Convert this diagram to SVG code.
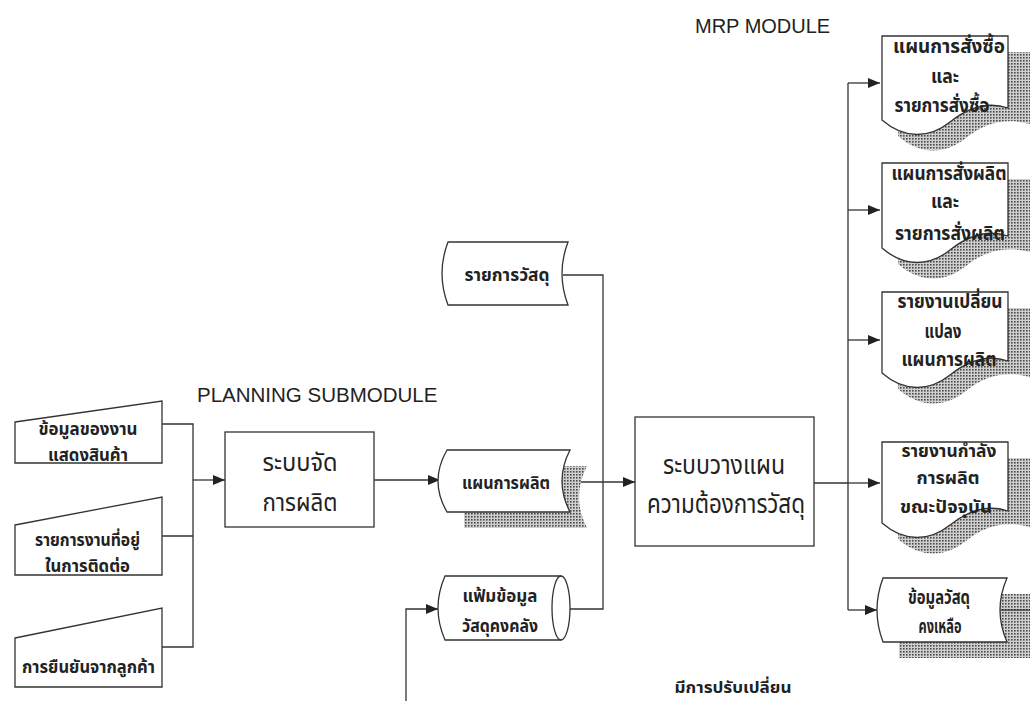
<svg xmlns="http://www.w3.org/2000/svg" width="1030" height="701" viewBox="0 0 1030 701">
<defs>
<pattern id="dots" width="3" height="3" patternUnits="userSpaceOnUse"><rect width="3" height="3" fill="#cfcfcf"/><rect width="1.6" height="1.6" fill="#4a4a4a"/></pattern>
<marker id="ah" viewBox="0 0 12 10" refX="12" refY="5" markerWidth="12" markerHeight="10" markerUnits="userSpaceOnUse" orient="auto"><path d="M0,0 L12,5 L0,10 Z" fill="#222"/></marker>
</defs>
<style>
.s{fill:#fff;stroke:#333;stroke-width:1.3}
.sh{fill:url(#dots);stroke:none}
.c{fill:none;stroke:#333;stroke-width:1.3}
.t{font-family:"Noto Sans Thai","Noto Sans","DejaVu Sans",sans-serif;font-weight:bold;fill:#222;text-anchor:middle}
.tn{font-family:"Noto Sans Thai","Noto Sans","DejaVu Sans",sans-serif;font-weight:normal;fill:#222;text-anchor:middle}
.e{font-family:"Liberation Sans",Arial,sans-serif;fill:#222}
</style>
<rect width="1030" height="701" fill="#fff"/>
<text class="e" x="197" y="402" font-size="20.5">PLANNING SUBMODULE</text>
<text class="e" x="695" y="33" font-size="20">MRP MODULE</text>
<text class="t" x="733" y="693" font-size="16" textLength="117" lengthAdjust="spacingAndGlyphs">มีการปรับเปลี่ยน</text>

<g id="connectors">
<path class="c" d="M162,424 H193 V647 H162 M162,536 H193"/>
<path class="c" d="M193,480 H225" marker-end="url(#ah)"/>
<path class="c" d="M374,480 H440" marker-end="url(#ah)"/>
<path class="c" d="M563,482 H635" marker-end="url(#ah)"/>
<path class="c" d="M563,275 H603 V609 H570"/>
<path class="c" d="M406,701 V609 H438" marker-end="url(#ah)"/>
<path class="c" d="M814,483 H848 M848,83 V610"/>
<path class="c" d="M848,83 H880" marker-end="url(#ah)"/>
<path class="c" d="M848,210 H880" marker-end="url(#ah)"/>
<path class="c" d="M848,340 H880" marker-end="url(#ah)"/>
<path class="c" d="M848,483 H880" marker-end="url(#ah)"/>
<path class="c" d="M848,610 H877" marker-end="url(#ah)"/>
</g>

<g id="in1"><path class="s" d="M15,422 L162,401 V463 H15 Z"/>
<text class="t" x="88" y="435" font-size="17" textLength="99" lengthAdjust="spacingAndGlyphs">ข้อมูลของงาน</text>
<text class="t" x="88" y="461" font-size="17" textLength="80" lengthAdjust="spacingAndGlyphs">แสดงสินค้า</text></g>
<g id="in2"><path class="s" d="M15,525 L162,497 V575 H15 Z"/>
<text class="t" x="87.5" y="546" font-size="17" textLength="105" lengthAdjust="spacingAndGlyphs">รายการงานที่อยู่</text>
<text class="t" x="87.5" y="572" font-size="17" textLength="85" lengthAdjust="spacingAndGlyphs">ในการติดต่อ</text></g>
<g id="in3"><path class="s" d="M15,638 L162,608 V687 H15 Z"/>
<text class="t" x="88.5" y="673" font-size="17" textLength="133" lengthAdjust="spacingAndGlyphs">การยืนยันจากลูกค้า</text></g>

<g id="p1"><rect class="s" x="225" y="432" width="149" height="95"/>
<text class="tn" x="300" y="471" font-size="25" textLength="75" lengthAdjust="spacingAndGlyphs">ระบบจัด</text>
<text class="tn" x="300" y="511" font-size="25" textLength="75" lengthAdjust="spacingAndGlyphs">การผลิต</text></g>

<g id="d1"><path class="s" d="M448,242 H568 Q556,273.5 568,305 H448 Q436,273.5 448,242 Z"/>
<text class="t" x="507" y="281" font-size="18" textLength="85" lengthAdjust="spacingAndGlyphs">รายการวัสดุ</text></g>

<g id="d2"><path class="sh" d="M464,466 H587 Q571,497 587,528 H464 Z"/>
<path class="s" d="M447,450 H570 Q554,481 570,512 H447 Q429,481 447,450 Z"/>
<text class="t" x="506" y="489" font-size="18" textLength="88" lengthAdjust="spacingAndGlyphs">แผนการผลิต</text></g>

<g id="d3"><path class="s" d="M445,576 H561 A9,32 0 0 1 561,640 H445 Q431,608 445,576 Z"/>
<path class="c" d="M561,576 A9,32 0 0 0 561,640"/>
<text class="t" x="500" y="602" font-size="18" textLength="75" lengthAdjust="spacingAndGlyphs">แฟ้มข้อมูล</text>
<text class="t" x="500" y="632" font-size="18" textLength="76" lengthAdjust="spacingAndGlyphs">วัสดุคงคลัง</text></g>

<g id="mrp"><rect class="s" x="635" y="417" width="179" height="129"/>
<text class="tn" x="724" y="474" font-size="26" textLength="122" lengthAdjust="spacingAndGlyphs">ระบบวางแผน</text>
<text class="tn" x="726" y="513" font-size="26" textLength="158" lengthAdjust="spacingAndGlyphs">ความต้องการวัสดุ</text></g>

<g id="o1"><path class="sh" d="M898,52 H1030 V124 C1006,118 986,122 966,138 C946,154 921,156 898,136 Z"/>
<path class="s" d="M882,36 H1008 V108 C990,102 970,106 950,122 C930,138 905,140 882,120 Z"/>
<text class="t" x="949" y="53" font-size="19" textLength="112" lengthAdjust="spacingAndGlyphs">แผนการสั่งซื้อ</text>
<text class="t" x="945" y="83" font-size="19" textLength="28" lengthAdjust="spacingAndGlyphs">และ</text>
<text class="t" x="942" y="112" font-size="19" textLength="95" lengthAdjust="spacingAndGlyphs">รายการสั่งซื้อ</text></g>

<g id="o2"><path class="sh" d="M898,179 H1030 V252 C1006,246 986,250 966,266 C946,282 921,284 898,264 Z"/>
<path class="s" d="M882,163 H1008 V236 C990,230 970,234 950,250 C930,266 905,268 882,248 Z"/>
<text class="t" x="949" y="180" font-size="19" textLength="115" lengthAdjust="spacingAndGlyphs">แผนการสั่งผลิต</text>
<text class="t" x="945" y="208" font-size="19" textLength="28" lengthAdjust="spacingAndGlyphs">และ</text>
<text class="t" x="950" y="240" font-size="19" textLength="110" lengthAdjust="spacingAndGlyphs">รายการสั่งผลิต</text></g>

<g id="o3"><path class="sh" d="M898,308 H1030 V377 C1006,371 986,375 966,391 C946,407 921,409 898,389 Z"/>
<path class="s" d="M882,292 H1008 V361 C990,355 970,359 950,375 C930,391 905,393 882,373 Z"/>
<text class="t" x="950" y="308" font-size="19" textLength="105" lengthAdjust="spacingAndGlyphs">รายงานเปลี่ยน</text>
<text class="t" x="943" y="338" font-size="19" textLength="37" lengthAdjust="spacingAndGlyphs">แปลง</text>
<text class="t" x="949" y="366" font-size="19" textLength="95" lengthAdjust="spacingAndGlyphs">แผนการผลิต</text></g>

<g id="o4"><path class="sh" d="M898,458 H1030 V527 C1006,521 986,525 966,541 C946,557 921,559 898,539 Z"/>
<path class="s" d="M882,442 H1008 V511 C990,505 970,509 950,525 C930,541 905,543 882,523 Z"/>
<text class="t" x="949" y="457" font-size="18" textLength="95" lengthAdjust="spacingAndGlyphs">รายงานกำลัง</text>
<text class="t" x="948" y="484" font-size="18" textLength="63" lengthAdjust="spacingAndGlyphs">การผลิต</text>
<text class="t" x="946" y="513" font-size="18" textLength="92" lengthAdjust="spacingAndGlyphs">ขณะปัจจุบัน</text></g>

<g id="o5"><path class="sh" d="M899,594 H1030 V658 H899 Z"/>
<path class="s" d="M883,578 H1007 Q993,610 1007,642 H883 Q871,610 883,578 Z"/>
<path class="c" d="M1001,610 H1030"/>
<text class="t" x="939" y="604" font-size="19" textLength="62" lengthAdjust="spacingAndGlyphs">ข้อมูลวัสดุ</text>
<text class="t" x="940" y="633" font-size="19" textLength="43" lengthAdjust="spacingAndGlyphs">คงเหลือ</text></g>
</svg>
